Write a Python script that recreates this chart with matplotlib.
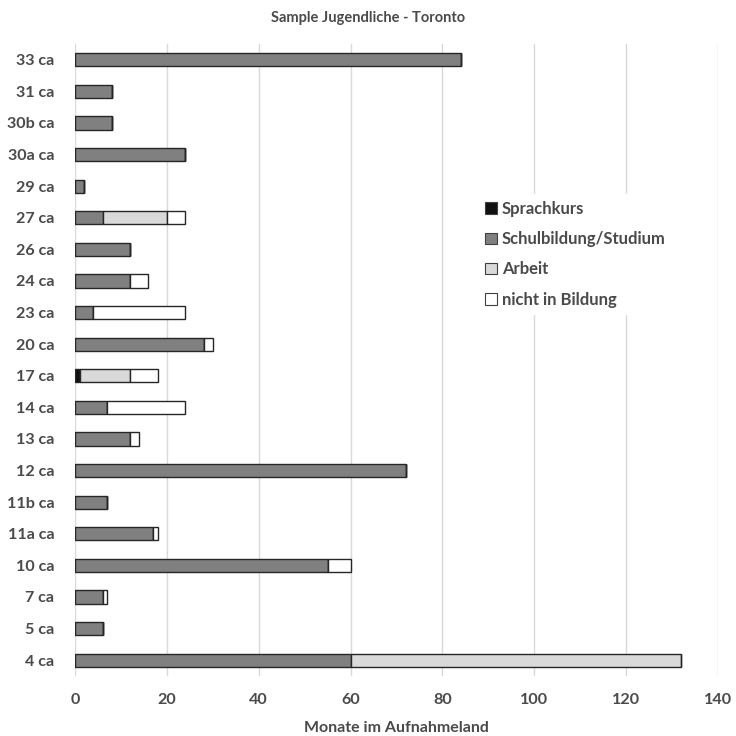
import matplotlib
matplotlib.use("Agg")
import matplotlib.pyplot as plt
import numpy as np

categories = ["4 ca", "5 ca", "7 ca", "10 ca", "11a ca", "11b ca", "12 ca", "13 ca", "14 ca",
              "17 ca", "20 ca", "23 ca", "24 ca", "26 ca", "27 ca", "29 ca", "30a ca", "30b ca",
              "31 ca", "33 ca"]
sprachkurs = [0, 0, 0, 0, 0, 0, 0, 0, 0, 1, 0, 0, 0, 0, 0, 0, 0, 0, 0, 0]
schulbildung = [60, 6, 6, 55, 17, 7, 72, 12, 7, 0, 28, 4, 12, 12, 6, 2, 24, 8, 8, 84]
arbeit = [72, 0, 0, 0, 0, 0, 0, 0, 0, 11, 0, 0, 0, 0, 14, 0, 0, 0, 0, 0]
nicht_bildung = [0, 0, 1, 5, 1, 0, 0, 2, 17, 6, 2, 20, 4, 0, 4, 0, 0, 0, 0, 0]
series_names = ["Sprachkurs", "Schulbildung/Studium", "Arbeit", "nicht in Bildung"]
xticks = [0, 20, 40, 60, 80, 100, 120, 140]

colors = ["#111111", "#808080", "#d9d9d9", "#ffffff"]
txt = "#4a4a4a"
plt.rcParams['font.family'] = ['Lato', 'DejaVu Sans']
plt.rcParams['font.weight'] = 'bold'

fig = plt.figure(figsize=(7.36, 7.36), dpi=100)
ax = fig.add_axes([75/736, 1-676/736, (718-75)/736, (676-44)/736])

y = np.arange(len(categories))
left = np.zeros(len(categories))
for name, vals, c in zip(series_names, [sprachkurs, schulbildung, arbeit, nicht_bildung], colors):
    vals = np.array(vals, dtype=float)
    ax.barh(y, vals, left=left, height=0.42, color=c, edgecolor="#262626",
            linewidth=1.0, label=name, zorder=3)
    left += vals

ax.set_ylim(-0.5, len(categories) - 0.5)
ax.set_xlim(0, 140)
ax.set_xticks(xticks)
ax.set_yticks(y)
ax.set_yticklabels(categories)
ax.tick_params(axis='both', length=0, labelsize=11.6, colors=txt)
ax.tick_params(axis='x', pad=12)
ax.tick_params(axis='y', pad=15)
for lbl in ax.get_xticklabels() + ax.get_yticklabels():
    lbl.set_fontweight('bold')
ax.grid(axis='x', color="#d9d9d9", linewidth=1.0, zorder=0)
ax.set_axisbelow(True)
for s in ax.spines.values():
    s.set_visible(False)
ax.set_xlabel("Monate im Aufnahmeland", fontsize=11.5, fontweight='bold', color=txt, labelpad=10)
fig.text(368/736, 1-18/736, "Sample Jugendliche - Toronto", ha='center', va='center',
         fontsize=10.5, fontweight='bold', color=txt)

leg = ax.legend(loc='upper left', bbox_to_anchor=((470-75)/643, 1-(186-44)/632),
                frameon=True, facecolor='white', edgecolor='white', framealpha=1,
                fontsize=12, handlelength=0.7, handleheight=0.7, handletextpad=0.3,
                labelspacing=0.85, borderpad=0.4)
for t in leg.get_texts():
    t.set_color(txt)
    t.set_fontweight('bold')
for h in leg.legend_handles:
    h.set_linewidth(0.8)
    h.set_edgecolor("#404040")

fig.savefig("out.png", dpi=100)
